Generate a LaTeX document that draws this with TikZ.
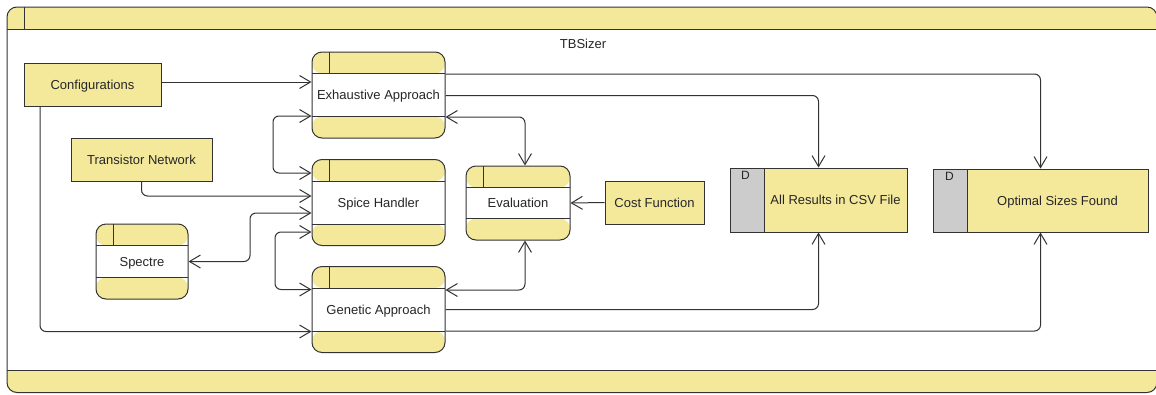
\documentclass[tikz,border=0pt]{standalone}
\usepackage{fontspec}
\setmainfont{Liberation Sans}
\usetikzlibrary{arrows.meta}
\definecolor{yel}{HTML}{F4E99B}
\definecolor{lc}{HTML}{333333}
\definecolor{gr}{HTML}{CCCCCC}
\tikzset{
  fnt/.style={font=\fontsize{13}{15}\selectfont, text=black!85, text height=12pt, text depth=2.7pt},
  proc/.style={fnt, draw=lc, line width=1pt, fill=white, rounded corners=10pt, inner sep=0pt,
    path picture={
      \fill[yel] (path picture bounding box.north west) rectangle ([yshift=-21.5pt]path picture bounding box.north east);
      \fill[yel] (path picture bounding box.south west) rectangle ([yshift=21.5pt]path picture bounding box.south east);
      \draw[lc,line width=1pt] ([yshift=-21.5pt]path picture bounding box.north west) -- ([yshift=-21.5pt]path picture bounding box.north east);
      \draw[lc,line width=1pt] ([yshift=21.5pt]path picture bounding box.south west) -- ([yshift=21.5pt]path picture bounding box.south east);
      \draw[lc,line width=1pt] ([xshift=17pt]path picture bounding box.north west) -- ([xshift=17pt,yshift=-21.5pt]path picture bounding box.north west);
    }},
  ext/.style={fnt, draw=lc, line width=1pt, fill=yel, inner sep=0pt},
  store/.style={fnt, draw=lc, line width=1pt, fill=yel, inner sep=0pt,
    path picture={
      \fill[gr] (path picture bounding box.north west) rectangle ([xshift=34pt]path picture bounding box.south west);
      \draw[lc,line width=1pt] ([xshift=34pt]path picture bounding box.north west) -- ([xshift=34pt]path picture bounding box.south west);
    }},
  con/.style={draw=lc, line width=1pt, rounded corners=6pt, -{Straight Barb[length=11pt,width=13pt]}},
  dcon/.style={draw=lc, line width=1pt, rounded corners=6pt, {Straight Barb[length=11pt,width=13pt]}-{Straight Barb[length=11pt,width=13pt]}},
}
\begin{document}
\begin{tikzpicture}[x=1pt,y=-1pt]
\useasboundingbox (0,0) rectangle (1156,394);
% outer frame
\begin{scope}
\clip[rounded corners=10pt] (7,7) rectangle (1157,392.5);
\fill[white] (7,7) rectangle (1157,392.5);
\fill[yel] (7,7) rectangle (1157,29);
\fill[yel] (7,370) rectangle (1157,392.5);
\end{scope}
\draw[lc, line width=1pt, rounded corners=10pt] (7,7) rectangle (1157,392.5);
\draw[lc, line width=1pt] (7,29) -- (1157,29);
\draw[lc, line width=1pt] (7,370) -- (1157,370);
\draw[lc, line width=1pt] (24,7) -- (24,29);
\node[fnt] (title) at (583,44) {TBSizer};

% nodes
\node[ext, minimum width=137pt, minimum height=43pt] (conf) at (92.5,84.5) {Configurations};
\node[ext, minimum width=141pt, minimum height=43pt] (tn) at (141.5,159.5) {Transistor Network};
\node[proc, minimum width=92pt, minimum height=75pt] (spectre) at (142,261.5) {Spectre};
\node[proc, minimum width=133pt, minimum height=86pt] (exh) at (378.5,95) {Exhaustive Approach};
\node[proc, minimum width=133pt, minimum height=86pt] (spice) at (378.5,202.5) {Spice Handler};
\node[proc, minimum width=133pt, minimum height=86pt] (gen) at (378.5,309.5) {Genetic Approach};
\node[proc, minimum width=104pt, minimum height=74pt] (eval) at (518,203) {Evaluation};
\node[ext, minimum width=99pt, minimum height=43pt] (cost) at (654.5,202.5) {Cost Function};
\node[store, minimum width=177pt, minimum height=64pt] (csv) at (818.5,200) {};
\node[fnt] (csvt) at ([xshift=17pt]csv.center) {All Results in CSV File};
\node[fnt, font=\fontsize{12}{14}\selectfont] (csvd) at ([xshift=16pt,yshift=-7pt]csv.north west) {D};
\node[store, minimum width=215pt, minimum height=63pt] (opt) at (1040.5,200.5) {};
\node[fnt] (optt) at ([xshift=17pt]opt.center) {Optimal Sizes Found};
\node[fnt, font=\fontsize{12}{14}\selectfont] (optd) at ([xshift=17pt,yshift=-7pt]opt.north west) {D};

% connectors
\draw[con] (conf.east |- 0,82) -- (exh.west |- 0,82);
\draw[con] (conf.south -| 40,0) |- (gen.west |- 0,331.5);
\draw[con] (tn.south) |- (spice.west |- 0,196);
\draw[dcon] (spectre.east) -| (250,240) |- (spice.west |- 0,213);
\draw[dcon] (exh.west |- 0,116) -| (273,150) |- (spice.west |- 0,173);
\draw[dcon] (spice.west |- 0,232) -| (275,260) |- (gen.west |- 0,289.5);
\draw[dcon] (exh.east |- 0,117) -| ([xshift=7pt]eval.north);
\draw[dcon] (gen.east |- 0,290) -| ([xshift=7pt]eval.south);
\draw[con] (cost.west) -- (eval.east);
\draw[con] (exh.east |- 0,74) -| (opt.north);
\draw[con] (exh.east |- 0,95.5) -| (csv.north);
\draw[con] (gen.east |- 0,309.5) -| (csv.south);
\draw[con] (gen.east |- 0,331) -| (opt.south);
\end{tikzpicture}
\end{document}
